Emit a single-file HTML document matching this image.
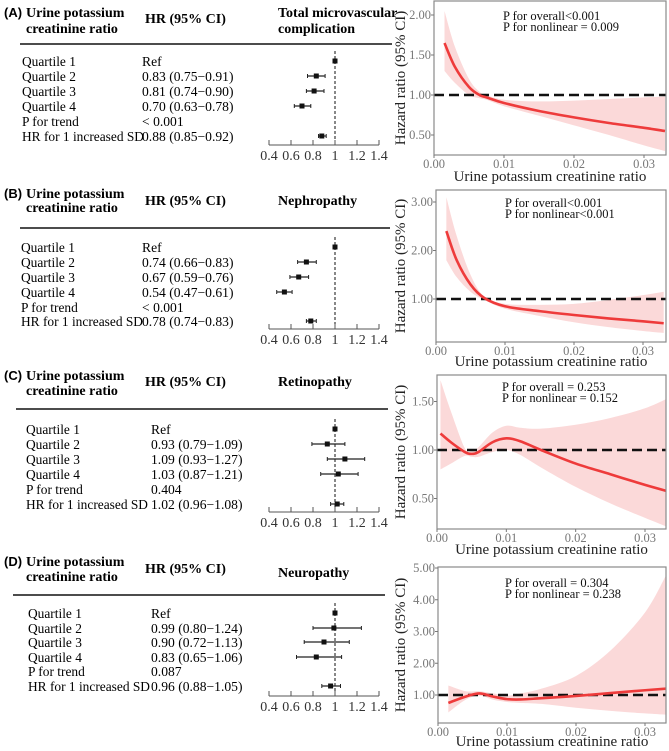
<!DOCTYPE html>
<html><head><meta charset="utf-8"><style>
html,body{margin:0;padding:0;background:#fff;}
svg{display:block;font-family:"Liberation Serif",serif;}
</style></head><body>
<svg id="fig" width="669" height="751" viewBox="0 0 669 751"></svg>
<script>
// ---- forest data ----
const rowLabels = ["Quartile 1","Quartile 2","Quartile 3","Quartile 4","P for trend","HR for 1 increased SD"];
const hrTextA = ["Ref","0.83 (0.75\u22120.91)","0.81 (0.74\u22120.90)","0.70 (0.63\u22120.78)","< 0.001","0.88 (0.85\u22120.92)"];
const hrTextB = ["Ref","0.74 (0.66\u22120.83)","0.67 (0.59\u22120.76)","0.54 (0.47\u22120.61)","< 0.001","0.78 (0.74\u22120.83)"];
const hrTextC = ["Ref","0.93 (0.79\u22121.09)","1.09 (0.93\u22121.27)","1.03 (0.87\u22121.21)","0.404","1.02 (0.96\u22121.08)"];
const hrTextD = ["Ref","0.99 (0.80\u22121.24)","0.90 (0.72\u22121.13)","0.83 (0.65\u22121.06)","0.087","0.96 (0.88\u22121.05)"];
const estA = [1,0.83,0.81,0.70,null,0.88], loA=[1,0.75,0.74,0.63,null,0.85], hiA=[1,0.91,0.90,0.78,null,0.92];
const estB = [1,0.74,0.67,0.54,null,0.78], loB=[1,0.66,0.59,0.47,null,0.74], hiB=[1,0.83,0.76,0.61,null,0.83];
const estC = [1,0.93,1.09,1.03,null,1.02], loC=[1,0.79,0.93,0.87,null,0.96], hiC=[1,1.09,1.27,1.21,null,1.08];
const estD = [1,0.99,0.90,0.83,null,0.96], loD=[1,0.80,0.72,0.65,null,0.88], hiD=[1,1.24,1.13,1.06,null,1.05];
const forestTicks = [0.4,0.6,0.8,1,1.2,1.4];
const forestTickLabels = ["0.4","0.6","0.8","1","1.2","1.4"];
// ---- spline data ----
const xTicks = [0,0.01,0.02,0.03];
const xTickLabels = ["0.00","0.01","0.02","0.03"];
const xA = [0.0015,0.003,0.005,0.0065,0.0075,0.01,0.015,0.02,0.025,0.03,0.033];
const fitA = [1.65,1.35,1.1,1.0,0.97,0.9,0.8,0.72,0.65,0.59,0.55];
const lowA = [1.3,1.15,1.0,0.96,0.94,0.86,0.74,0.62,0.5,0.37,0.3];
const upA  = [2.05,1.6,1.2,1.04,1.0,0.94,0.92,0.93,0.95,0.97,0.98];
const xB = [0.0015,0.003,0.005,0.007,0.01,0.015,0.02,0.025,0.03,0.033];
const fitB = [2.4,1.8,1.3,1.02,0.85,0.75,0.67,0.6,0.54,0.5];
const lowB = [1.8,1.45,1.15,0.98,0.8,0.65,0.52,0.42,0.34,0.3];
const upB  = [3.1,2.3,1.5,1.05,0.9,0.88,0.9,0.98,1.08,1.15];
const xC = [0.0005,0.002,0.004,0.005,0.006,0.008,0.01,0.012,0.015,0.02,0.025,0.03,0.0335];
const fitC = [1.17,1.08,0.98,0.96,0.98,1.08,1.12,1.09,1.0,0.86,0.75,0.64,0.57];
const lowC = [0.8,0.86,0.94,0.93,0.93,0.98,1.0,0.95,0.82,0.62,0.45,0.3,0.2];
const upC  = [1.72,1.4,1.02,0.99,1.03,1.18,1.25,1.23,1.22,1.26,1.33,1.43,1.54];
const xD = [0.0015,0.004,0.006,0.008,0.01,0.012,0.015,0.02,0.025,0.03,0.033];
const fitD = [0.75,0.95,1.05,0.95,0.87,0.86,0.9,0.97,1.06,1.15,1.2];
const lowD = [0.45,0.85,0.98,0.85,0.78,0.75,0.72,0.6,0.5,0.42,0.38];
const upD  = [1.3,1.12,1.12,1.05,0.98,1.05,1.2,1.6,2.4,3.6,4.75];
const yTicksA=[0.5,1,1.5,2], yTicksB=[1,2,3], yTicksC=[0.5,1,1.5], yTicksD=[1,2,3,4,5];

const NS="http://www.w3.org/2000/svg", svg=document.getElementById('fig');
function el(tag,attrs,parent,text){const e=document.createElementNS(NS,tag);for(const k in attrs)e.setAttribute(k,attrs[k]);if(text!==undefined)e.textContent=text;(parent||svg).appendChild(e);return e;}
function smooth(pts,start){
  let d=(start?'M':'L')+pts[0][0]+','+pts[0][1];
  for(let i=0;i<pts.length-1;i++){
    const p0=pts[Math.max(i-1,0)],p1=pts[i],p2=pts[i+1],p3=pts[Math.min(i+2,pts.length-1)];
    const c1=[p1[0]+(p2[0]-p0[0])/6,p1[1]+(p2[1]-p0[1])/6];
    const c2=[p2[0]-(p3[0]-p1[0])/6,p2[1]-(p3[1]-p1[1])/6];
    d+='C'+c1[0]+','+c1[1]+' '+c2[0]+','+c2[1]+' '+p2[0]+','+p2[1];
  }
  return d;
}

function forest(p){
  const g=el('g',{});
  
  
  let t=el('text',{x:4,y:p.h1,'font-family':'Liberation Sans,sans-serif','font-weight':'bold','font-size':13},g,'('+p.id.toUpperCase()+')');
   
  t=el('text',{x:26,y:p.h1,'font-weight':'bold','font-size':14},g,'Urine potassium');
   
  el('text',{x:26,y:p.h2,'font-weight':'bold','font-size':14},g,'creatinine ratio');
  t=el('text',{x:145,y:p.hr,'font-weight':'bold','font-size':14},g,'HR (95% CI)');
   
  t=el('text',{x:p.tx,y:p.ty1,'font-weight':'bold','font-size':14},g,p.title[0]);
   
  if(p.title[1]) el('text',{x:p.tx,y:p.h2,'font-weight':'bold','font-size':14},g,p.title[1]);
  const ln=el('line',{x1:p.lx1,x2:p.lx2,y1:p.line,y2:p.line,stroke:'#111','stroke-width':1.6},g);
   
  const fx=v=>335+(v-1)*110;
  const dl=el('line',{x1:fx(1),x2:fx(1),y1:p.rows[0]-10,y2:p.axis,stroke:'#111','stroke-width':1,'stroke-dasharray':'3,2'},g);
   
  rowLabels.forEach((lab,i)=>{
    const y=p.rows[i];
    const a=el('text',{x:p.qx,y:y+5,'font-size':13.4},g,lab);
     
    const b=el('text',{x:p.hx,y:y+5,'font-size':13.6},g,p.txt[i]);
     
    if(p.est[i]!=null){
      if(i>0){
        const c=el('line',{x1:fx(p.lo[i]),x2:fx(p.hi[i]),y1:y,y2:y,stroke:'#222','stroke-width':1.2},g);
         
        el('line',{x1:fx(p.lo[i]),x2:fx(p.lo[i]),y1:y-2,y2:y+2,stroke:'#222','stroke-width':1},g);
        el('line',{x1:fx(p.hi[i]),x2:fx(p.hi[i]),y1:y-2,y2:y+2,stroke:'#222','stroke-width':1},g);
      }
      const m=el('rect',{x:fx(p.est[i])-2.5,y:y-2.5,width:5,height:5,fill:'#111'},g);
       
    }
  });
  const ax=el('line',{x1:fx(0.4),x2:fx(1.4),y1:p.axis,y2:p.axis,stroke:'#555','stroke-width':1},g);
   
  forestTicks.forEach((v,i)=>{
    el('line',{x1:fx(v),x2:fx(v),y1:p.axis,y2:p.axis-5,stroke:'#555','stroke-width':1},g);
    const tl=el('text',{x:fx(v),y:p.axis+15,'font-size':14,'text-anchor':'middle',fill:'#333'},g,forestTickLabels[i]);
     
  });
}

function spline(p){
  const g=el('g',{});
  
  
  const L=p.left,R=666,T=p.top,B=p.bot;
  const sx=v=>L+(v-0)*(p.x03-L)/0.03;
  const sy=v=>p.y1-(v-1)*p.ppu;
  const cp=el('clipPath',{id:'cp'+p.id},g); el('rect',{x:L,y:T,width:R-L,height:B-T},cp);
  const cg=el('g',{'clip-path':'url(#cp'+p.id+')'},g);
  const upPts=p.x.map((v,i)=>[sx(v),sy(p.up[i])]);
  const loPts=p.x.map((v,i)=>[sx(v),sy(p.lo[i])]).reverse();
  const band=el('path',{d:smooth(upPts,true)+smooth(loPts,false)+'Z',fill:'#fbd9d9'},cg);
   
  const ref=el('line',{x1:L,x2:R,y1:sy(1),y2:sy(1),stroke:'#111','stroke-width':2.4,'stroke-dasharray':'10,5'},cg);
   
  const fit=el('path',{d:smooth(p.x.map((v,i)=>[sx(v),sy(p.fit[i])]),true),fill:'none',stroke:'#ee3b3b','stroke-width':2.6,'stroke-linejoin':'round'},cg);
   
  const box=el('rect',{x:L,y:T,width:R-L,height:B-T,fill:'none',stroke:'#8a8a8a','stroke-width':1.2},g);
   
  p.yt.forEach(v=>{
    el('line',{x1:L-3,x2:L,y1:sy(v),y2:sy(v),stroke:'#777'},g);
    const t=el('text',{x:L-3,y:sy(v)+4,'font-size':12.5,'text-anchor':'end',fill:'#777'},g,v.toFixed(2));
     
  });
  xTicks.forEach((v,i)=>{
    el('line',{x1:sx(v),x2:sx(v),y1:B,y2:B+3,stroke:'#777'},g);
    const t=el('text',{x:sx(v),y:B+13,'font-size':12.5,'text-anchor':'middle',fill:'#777'},g,xTickLabels[i]);
     
  });
  const xt=el('text',{x:(L+R)/2,y:p.xty,'font-size':15,'text-anchor':'middle',fill:'#222'},g,'Urine potassium creatinine ratio');
   
  const yc=(T+B)/2;
  const yt=el('text',{x:405,y:yc,'font-size':15,'text-anchor':'middle',fill:'#222',transform:'rotate(-90 405 '+yc+')'},g,'Hazard ratio (95% CI)');
   
  const a1=el('text',{x:p.px,y:p.py,'font-size':12.5,fill:'#111'},g,p.p1);
   
  const a2=el('text',{x:p.px,y:p.py+11,'font-size':12.5,fill:'#111'},g,p.p2);
   
}

forest({id:'a',h1:17,h2:33,hr:23,tx:278,ty1:17,title:['Total microvascular','complication'],line:44,lx1:20,lx2:392,rows:[61,76,91,106,121,136],axis:145,qx:22,hx:142,txt:hrTextA,est:estA,lo:loA,hi:hiA});
forest({id:'b',h1:198,h2:212,hr:205,tx:278,ty1:205,title:['Nephropathy'],line:228,lx1:20,lx2:390,rows:[247,262,277,292,307,321],axis:329,qx:21,hx:142,txt:hrTextB,est:estB,lo:loB,hi:hiB});
forest({id:'c',h1:380,h2:395,hr:386,tx:278,ty1:386,title:['Retinopathy'],line:409,lx1:16,lx2:388,rows:[429,444,459,474,489,504],axis:512,qx:26,hx:151,txt:hrTextC,est:estC,lo:loC,hi:hiC});
forest({id:'d',h1:566,h2:581,hr:573,tx:278,ty1:577,title:['Neuropathy'],line:595,lx1:13,lx2:385,rows:[613,628,642,657,671,686],axis:696,qx:28,hx:151,txt:hrTextD,est:estD,lo:loD,hi:hiD});

spline({id:'a',left:434,x03:644,top:1,bot:155,y1:95,ppu:80,yt:yTicksA,x:xA,fit:fitA,lo:lowA,up:upA,xty:181,px:503,py:20,p1:'P for overall<0.001',p2:'P for nonlinear = 0.009'});
spline({id:'b',left:436,x03:643,top:190,bot:342,y1:299,ppu:48.5,yt:yTicksB,x:xB,fit:fitB,lo:lowB,up:upB,xty:366,px:505,py:207,p1:'P for overall<0.001',p2:'P for nonlinear<0.001'});
spline({id:'c',left:437,x03:645,top:375,bot:529,y1:450,ppu:97,yt:yTicksC,x:xC,fit:fitC,lo:lowC,up:upC,xty:554,px:502,py:391,p1:'P for overall = 0.253',p2:'P for nonlinear = 0.152'});
spline({id:'d',left:438,x03:645,top:567,bot:723,y1:695,ppu:31.75,yt:yTicksD,x:xD,fit:fitD,lo:lowD,up:upD,xty:746,px:505,py:587,p1:'P for overall = 0.304',p2:'P for nonlinear = 0.238'});
</script>
</body></html>
